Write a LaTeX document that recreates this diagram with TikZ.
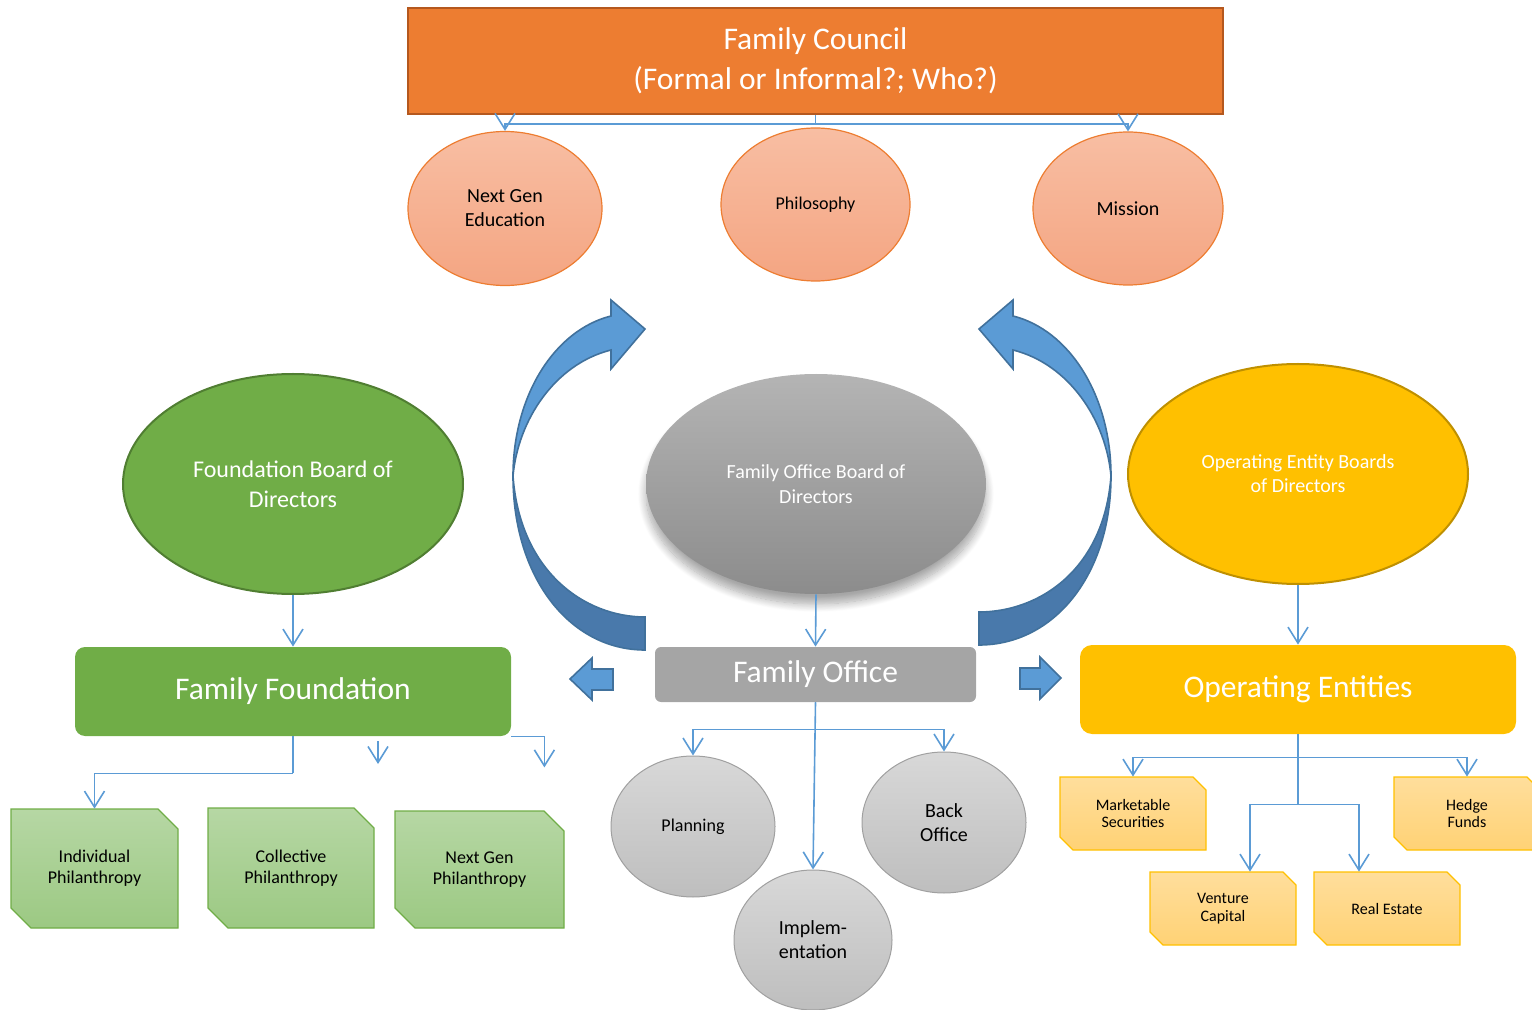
\documentclass[tikz,border=0pt]{standalone}
\usepackage{fontspec}
\setmainfont{Carlito}
\usetikzlibrary{shapes.geometric,arrows.meta,shadows.blur}
\definecolor{orng}{HTML}{ED7D31}
\definecolor{orngdk}{HTML}{B5581E}
\definecolor{salmtop}{HTML}{F8BEA3}
\definecolor{salmbot}{HTML}{F4A582}
\definecolor{grn}{HTML}{70AD47}
\definecolor{grndk}{HTML}{507E32}
\definecolor{grntop}{HTML}{B6D7A4}
\definecolor{grnbot}{HTML}{9CC983}
\definecolor{gold}{HTML}{FFC000}
\definecolor{golddk}{HTML}{BF9000}
\definecolor{yeltop}{HTML}{FFDE9C}
\definecolor{yelbot}{HTML}{FFD275}
\definecolor{gry}{HTML}{A5A5A5}
\definecolor{grytop}{HTML}{B4B4B4}
\definecolor{grybot}{HTML}{8C8C8C}
\definecolor{lgtop}{HTML}{D8D8D8}
\definecolor{lgbot}{HTML}{BEBEBE}
\definecolor{lgdraw}{HTML}{A0A0A0}
\definecolor{lblue}{HTML}{5B9BD5}
\definecolor{bluedk}{HTML}{41719C}
\definecolor{bluemid}{HTML}{4979AB}
\tikzset{
  conn/.style={draw=lblue, line width=0.8pt},
  arr/.style={conn, -{Straight Barb[length=8pt,width=10pt]}},
  salmon/.style={ellipse, inner sep=0pt, top color=salmtop, bottom color=salmbot, draw=orng, line width=0.6pt, align=center, text=black},
  bigell/.style={ellipse, inner sep=0pt, minimum width=170pt, minimum height=110pt, align=center, text=white},
  bigbox/.style={rectangle, rounded corners=5pt, inner sep=0pt, text=white, font=\fontsize{15.75}{20}\selectfont},
  lgell/.style={ellipse, inner sep=0pt, top color=lgtop, bottom color=lgbot, draw=lgdraw, line width=0.5pt, align=center, text=black},
  greenpath/.style={top color=grntop, bottom color=grnbot, draw=grn, line width=0.6pt},
  yellowpath/.style={top color=yeltop, bottom color=yelbot, draw=gold, line width=0.6pt},
  blockarrow/.style={fill=lblue, draw=bluedk, line width=0.8pt, line join=miter},
  fsmall/.style={font=\fontsize{10}{12}\selectfont},
  fnine/.style={font=\fontsize{9}{10.5}\selectfont},
  feight/.style={font=\fontsize{8}{9}\selectfont},
}
% name, cx, cy, half width, half height, cut, path style, node style, text
\newcommand{\snipbox}[9]{%
  \path[#7] ({#2-#4},{#3-#5}) -- ({#2+#4-#6},{#3-#5}) -- ({#2+#4},{#3-#5+#6})
    -- ({#2+#4},{#3+#5}) -- ({#2-#4+#6},{#3+#5}) -- ({#2-#4},{#3+#5-#6}) -- cycle;
  \node[rectangle, inner sep=0pt, minimum width=#4pt, minimum height=#5pt, align=center, #8] (#1) at (#2,#3) {#9};
}
\begin{document}
\begin{tikzpicture}[x=0.5pt,y=-0.5pt]
\useasboundingbox (0,0) rectangle (1532,1010);

% ---------- Family Council ----------
\node[rectangle, fill=orng, draw=orngdk, line width=1pt, minimum width=407.5pt, minimum height=53pt,
      inner sep=0pt, align=center, text=white, font=\fontsize{15.75}{20}\selectfont]
      (council) at (815.5,61) {\raisebox{-1.5pt}{\parbox{300pt}{\centering Family Council\\(Formal or Informal?; Who?)}}};

\node[salmon, minimum width=97pt, minimum height=77pt, fsmall] (nge) at (505,208.5) {Next Gen\\Education};
\node[salmon, minimum width=94.5pt, minimum height=76.5pt, fnine] (phil) at (815.5,204.5) {Philosophy};
\node[salmon, minimum width=95pt, minimum height=76.5pt, fsmall] (mission) at (1128,208.5) {Mission};

\draw[conn] (council.south) -- ++(0,9) coordinate (cj);
\draw[arr] (cj) -| (nge.north);
\draw[arr] (cj) -| (mission.north);

% ---------- curved arrows ----------
\begin{scope}
  \path[fill=bluemid, draw=bluedk, line width=0.8pt]
    (513,476) .. controls (513,578) and (570,650) .. (645,650) -- (645,617)
    .. controls (585,617) and (520,572) .. (513,476) -- cycle;
  \path[fill=lblue, draw=bluedk, line width=0.8pt, line join=miter]
    (645,329) -- (611,300) -- (611,316)
    .. controls (555,330) and (513,395) .. (513,476)
    .. controls (518,420) and (555,364) .. (611,350)
    -- (611,369) -- cycle;
\end{scope}
\begin{scope}[shift={(1624,0)}, xscale=-1]
  \path[fill=bluemid, draw=bluedk, line width=0.8pt]
    (513,476) .. controls (513,575) and (570,645) .. (645,645) -- (645,612)
    .. controls (585,612) and (520,570) .. (513,476) -- cycle;
  \path[fill=lblue, draw=bluedk, line width=0.8pt, line join=miter]
    (645,329) -- (611,300) -- (611,316)
    .. controls (555,330) and (513,395) .. (513,476)
    .. controls (518,420) and (555,364) .. (611,350)
    -- (611,369) -- cycle;
\end{scope}

% ---------- boards ----------
\node[bigell, fill=grn, draw=grndk, line width=1pt, font=\fontsize{12}{15}\selectfont]
  (fbod) at (293,484) {Foundation Board of\\Directors};
\node[bigell, top color=grytop, bottom color=grybot,
      blur shadow={shadow xshift=0pt, shadow yshift=-5pt, shadow blur radius=4pt, shadow blur steps=12, shadow opacity=35},
      font=\fontsize{10}{12.5}\selectfont]
  (fobod) at (816,484) {Family Office Board of\\Directors};
\node[bigell, fill=gold, draw=golddk, line width=1pt, font=\fontsize{10}{12}\selectfont]
  (oebod) at (1298,474) {Operating Entity Boards\\of Directors};

% ---------- main boxes ----------
\node[bigbox, fill=grn, minimum width=218pt, minimum height=44.5pt] (ff) at (293,691.5) {\raisebox{-1.5pt}{Family Foundation}};
\node[bigbox, fill=gry, rounded corners=3pt, minimum width=160.5pt, minimum height=27.5pt] (fo) at (815.5,674.5) {\raisebox{-1.5pt}{Family Office}};
\node[bigbox, fill=gold, rounded corners=6pt, minimum width=218pt, minimum height=44.5pt] (oe) at (1298,689.5) {\raisebox{-1.5pt}{Operating Entities}};

\draw[arr] (fbod.south) -- (ff.north);
\draw[arr] (fobod.south) -- (fo.north);
\draw[arr] (oebod.south) -- (oe.north);

% block arrows
\draw[blockarrow] (570,679) -- (592,658) -- (592,669) -- (613,669) -- (613,690) -- (592,690) -- (592,700) -- cycle;
\draw[blockarrow] (1061,678) -- (1040,657) -- (1040,668) -- (1020,668) -- (1020,689) -- (1040,689) -- (1040,699) -- cycle;

% ---------- Family Foundation children ----------
\snipbox{ind}{94.5}{868.5}{83.5}{59.5}{20}{greenpath}{fnine}{Individual\\Philanthropy}
\snipbox{coll}{291}{868}{83}{60}{20}{greenpath}{fnine}{Collective\\Philanthropy}
\snipbox{ngp}{479.5}{869.5}{84.5}{58.5}{20}{greenpath}{fnine}{Next Gen\\Philanthropy}

\draw[conn] (ff.south) -- ++(0,37) coordinate (fj);
\draw[arr] (fj) -| (ind.north);
\coordinate (fa1) at (378,741);
\coordinate (fa2) at (378,764);
\draw[arr] (fa1) -- (fa2);
\draw[arr] (ff.south east) -- ++(33,0) -- ++(0,31);

% ---------- Family Office children ----------
\node[lgell, minimum width=82pt, minimum height=70.5pt, fnine] (plan) at (693,826.5) {Planning};
\node[lgell, minimum width=82pt, minimum height=70.5pt, fsmall] (back) at (944,822.5) {Back\\Office};
\node[lgell, minimum width=79pt, minimum height=70pt, fsmall] (impl) at (813,940) {Implem-\\entation};

\draw[conn] (fo.south) -- ++(0,27) coordinate (oj);
\draw[arr] (oj) -| (plan.north);
\draw[arr] (oj) -| (back.north);
\draw[arr] (fo.south) -- (impl.north);

% ---------- Operating Entities children ----------
\snipbox{mkt}{1133}{813.5}{73}{36.5}{13}{yellowpath}{feight}{Marketable\\Securities}
\snipbox{hedge}{1467}{813.5}{73}{36.5}{13}{yellowpath}{feight}{Hedge\\Funds}
\snipbox{vc}{1223}{908.5}{73}{36.5}{13}{yellowpath}{feight}{Venture\\Capital}
\snipbox{re}{1387}{908.5}{73}{36.5}{13}{yellowpath}{feight}{Real Estate}

\draw[conn] (oe.south) -- ++(0,23) coordinate (ej1) -- ++(0,47) coordinate (ej2);
\draw[arr] (ej1) -| (mkt.north);
\draw[arr] (ej1) -| (hedge.north);
\draw[arr] (ej2) -| ([xshift=13.5pt]vc.north);
\draw[arr] (ej2) -| ([xshift=-14pt]re.north);
\end{tikzpicture}
\end{document}
